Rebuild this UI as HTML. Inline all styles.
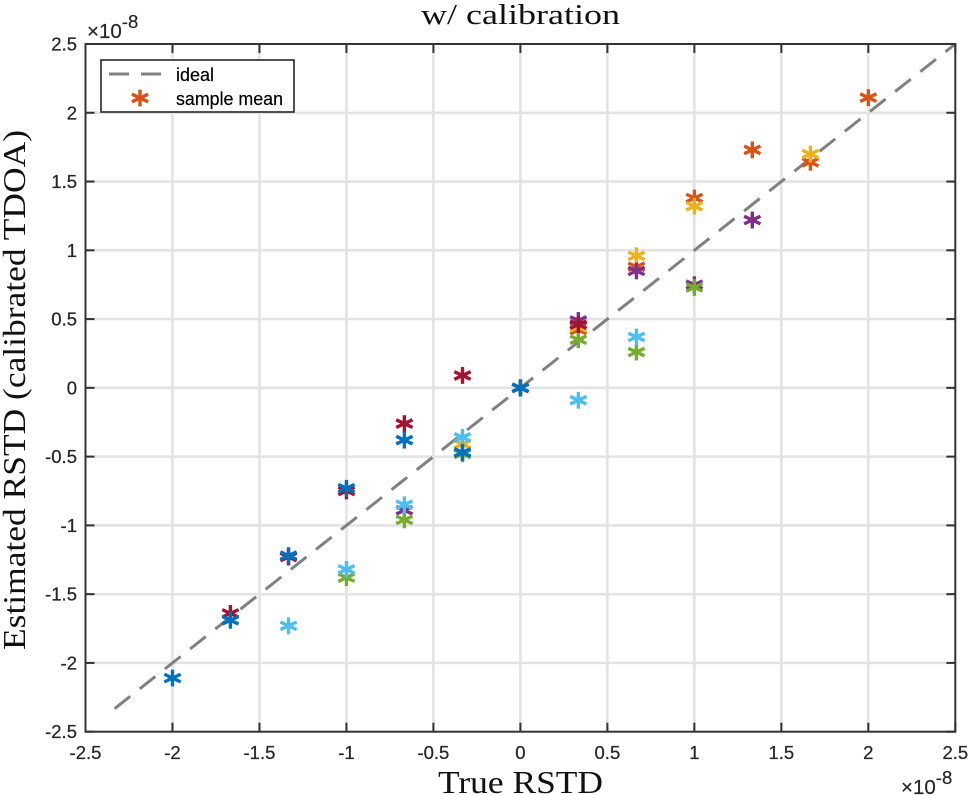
<!DOCTYPE html>
<html lang="en">
<head>
<meta charset="utf-8">
<title>w/ calibration</title>
<style>
html,body{margin:0;padding:0;background:#fff;width:969px;height:795px;overflow:hidden}
svg{display:block}
.tick{font-family:"Liberation Sans",Arial,sans-serif;font-size:18.5px;fill:#262626;stroke:#262626;stroke-width:.25px}
.mult{font-family:"Liberation Sans",Arial,sans-serif;font-size:20.5px;fill:#262626;stroke:#262626;stroke-width:.2px}
.legend-text{font-family:"Liberation Sans",Arial,sans-serif;font-size:18px;fill:#000;stroke:#000;stroke-width:.2px}
.serif{font-family:"Liberation Serif",serif;fill:#111}
</style>
</head>
<body>
<svg id="chart" xmlns="http://www.w3.org/2000/svg" width="969" height="795" viewBox="0 0 969 795">
  <rect x="0" y="0" width="969" height="795" fill="#fff"/>
  <g id="grid"></g>
  <g id="ideal"></g>
  <g id="marks"></g>
  <g id="axes"></g>
  <g id="labels"></g>

  <text class="serif" x="421" y="24" font-size="28" textLength="199" lengthAdjust="spacingAndGlyphs">w/ calibration</text>
  <text class="serif" x="438" y="793" font-size="32" textLength="165" lengthAdjust="spacingAndGlyphs">True RSTD</text>
  <text class="serif" transform="translate(25,650) rotate(-90)" x="0" y="0" font-size="32" textLength="520" lengthAdjust="spacingAndGlyphs">Estimated RSTD (calibrated TDOA)</text>

  <text class="mult" x="87" y="38">×10<tspan font-size="18.5" dy="-10">-8</tspan></text>
  <text class="mult" x="901" y="794">×10<tspan font-size="18.5" dy="-10">-8</tspan></text>

  <g>
    <rect x="101" y="60" width="193" height="52" fill="#fff" stroke="#262626" stroke-width="1.6"/>
    <line x1="109" y1="74" x2="162" y2="74" stroke="#808080" stroke-width="3" stroke-dasharray="20 12"/>
    <text class="legend-text" x="176" y="81">ideal</text>
    <g id="legendMarker"></g>
    <text class="legend-text" x="176" y="105" textLength="107" lengthAdjust="spacingAndGlyphs">sample mean</text>
  </g>
</svg>
<script>
const xTicks = [-2.5, -2, -1.5, -1, -0.5, 0, 0.5, 1, 1.5, 2, 2.5];
const yTicks = [-2.5, -2, -1.5, -1, -0.5, 0, 0.5, 1, 1.5, 2, 2.5];
const trueRstd = [-2, -1.667, -1.333, -1, -0.667, -0.333, 0, 0.333, 0.667, 1, 1.333, 1.667, 2];
const idealLine = [-2.333, 2.5];

const orangeValues = [null, null, null, null, null, null, 0, 0.42, 0.88, 1.38, 1.73, 1.64, 2.11];
const yellowValues = [null, null, null, null, null, -0.41, 0, 0.44, 0.96, 1.32, 1.22, 1.70, null];
const purpleValues = [null, null, null, null, -0.89, -0.47, 0, 0.49, 0.85, 0.75, 1.22, null, null];
const greenValues = [null, null, null, -1.38, -0.96, -0.48, 0, 0.35, 0.26, 0.73, null, null, null];
const lightBlueValues = [null, null, -1.73, -1.32, -0.85, -0.36, 0, -0.09, 0.37, null, null, null, null];
const redValues = [null, -1.64, -1.23, -0.75, -0.26, 0.09, 0, 0.46, null, null, null, null, null];
const blueValues = [-2.11, -1.69, -1.22, -0.73, -0.38, -0.47, 0, null, null, null, null, null, null];

const NS = 'http://www.w3.org/2000/svg';
const left = 85.5, right = 955.3, top_ = 44, bottom = 731.7;
const xScale = v => left + (v + 2.5) / 5 * (right - left);
const yScale = v => bottom - (v + 2.5) / 5 * (bottom - top_);

function svgEl(tag, attrs) {
  const el = document.createElementNS(NS, tag);
  for (const k in attrs) el.setAttribute(k, attrs[k]);
  return el;
}

const grid = document.getElementById('grid');
const axes = document.getElementById('axes');
const labels = document.getElementById('labels');
const lineStyle = { stroke: '#e3e3e3', 'stroke-width': 2.6 };
const axisStyle = { stroke: '#333', 'stroke-width': 2 };

xTicks.forEach(t => {
  const x = xScale(t);
  if (t > -2.5 && t < 2.5) {
    const g = svgEl('line', Object.assign({ x1: x, x2: x, y1: top_, y2: bottom }, lineStyle));
    
    
    grid.appendChild(g);
  }
  [[bottom, bottom - 9], [top_, top_ + 9]].forEach(p => {
    const tick = svgEl('line', Object.assign({ x1: x, x2: x, y1: p[0], y2: p[1] }, axisStyle));
    
    
    axes.appendChild(tick);
  });
  const label = svgEl('text', { class: 'tick', x: x, y: 759, 'text-anchor': 'middle' });
  
  
  label.textContent = String(t);
  labels.appendChild(label);
});

yTicks.forEach(t => {
  const y = yScale(t);
  if (t > -2.5 && t < 2.5) {
    const g = svgEl('line', Object.assign({ x1: left, x2: right, y1: y, y2: y }, lineStyle));
    
    
    grid.appendChild(g);
  }
  [[left, left + 9], [right, right - 9]].forEach(p => {
    const tick = svgEl('line', Object.assign({ x1: p[0], x2: p[1], y1: y, y2: y }, axisStyle));
    
    
    axes.appendChild(tick);
  });
  const label = svgEl('text', { class: 'tick', x: 77, y: y + 6.5, 'text-anchor': 'end' });
  
  
  label.textContent = String(t);
  labels.appendChild(label);
});

const frame = svgEl('rect', { x: left, y: top_, width: right - left, height: bottom - top_, fill: 'none', stroke: '#333', 'stroke-width': 2 });


axes.appendChild(frame);

const ideal = svgEl('line', {
  x1: xScale(idealLine[0]), y1: yScale(idealLine[0]),
  x2: xScale(idealLine[1]), y2: yScale(idealLine[1]),
  stroke: '#808080', 'stroke-width': 3, 'stroke-dasharray': '20 12.1'
});


document.getElementById('ideal').appendChild(ideal);

function asterisk(parent, cx, cy, color) {
  const g = svgEl('g', { stroke: color, 'stroke-width': 3.4, fill: 'none' });
  
  
  [[90, 8.4], [25, 9], [-25, 9]].forEach(a => {
    const dx = a[1] * Math.cos(a[0] * Math.PI / 180);
    const dy = a[1] * Math.sin(a[0] * Math.PI / 180);
    g.appendChild(svgEl('line', { x1: cx - dx, y1: cy - dy, x2: cx + dx, y2: cy + dy }));
  });
  parent.appendChild(g);
}

const drawOrder = [
  [orangeValues, '#D95319'],
  [yellowValues, '#EDB120'],
  [purpleValues, '#7E2F8E'],
  [greenValues, '#77AC30'],
  [lightBlueValues, '#4DBEEE'],
  [redValues, '#A2142F'],
  [blueValues, '#0072BD']
];
const marks = document.getElementById('marks');
drawOrder.forEach(s => {
  s[0].forEach((v, i) => {
    if (v === null) return;
    asterisk(marks, xScale(trueRstd[i]), yScale(v), s[1]);
  });
});
asterisk(document.getElementById('legendMarker'), 140, 98, '#D95319');
</script>
</body>
</html>
